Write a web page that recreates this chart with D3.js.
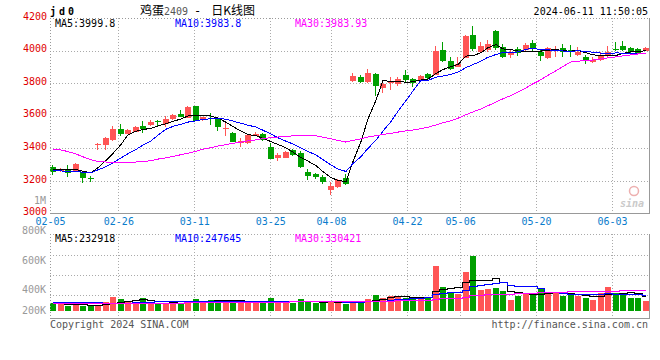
<!DOCTYPE html>
<html>
<head>
<meta charset="utf-8">
<script src="https://cdn.jsdelivr.net/npm/d3@7"></script>
<style>
  body { margin: 0; background: #fff; }
  svg { display: block; }
  text { font-family: "DejaVu Sans Mono", monospace; font-size: 10px; }
</style>
</head>
<body>
<div id="chart"></div>
<script>
// daily candles, 2024-02-05 .. 2024-06-11 (80 sessions)
var opens = [3288,3260,3274,3258,3252,3215,3423,3421,3452,3521,3491,3503,3538,3544,3566,3548,3578,3611,3589,3660,
  3572,3589,3585,3521,3497,3432,3432,3477,3489,3411,3340,3342,3391,3374,3252,3242,3221,3146,3160,3217,
  3813,3840,3805,3856,3768,3800,3797,3850,3825,3815,3854,3850,4003,3938,3901,3954,4095,3989,4003,4121,
  4025,3972,4009,4003,4044,3989,3954,4005,4017,4005,3974,3962,3932,3944,3968,4010,4030,4017,4009,3999];
var highs = [3299,3280,3299,3309,3262,3231,3435,3468,3538,3548,3521,3540,3568,3574,3576,3597,3609,3636,3662,3661,
  3595,3615,3586,3554,3503,3462,3487,3501,3497,3432,3370,3385,3395,3385,3272,3248,3238,3191,3211,3244,
  3864,3850,3884,3860,3809,3835,3835,3880,3830,3850,3864,4030,4050,3962,3958,4097,4148,4050,4066,4128,
  4040,4003,4019,4046,4066,4003,4019,4030,4040,4034,4019,3974,3958,3989,4030,4050,4058,4023,4013,4019];
var lows = [3238,3252,3227,3252,3187,3193,3391,3391,3446,3476,3487,3499,3497,3538,3531,3534,3574,3591,3585,3568,
  3568,3544,3509,3476,3436,3411,3427,3473,3444,3334,3325,3338,3350,3281,3207,3213,3183,3115,3156,3176,
  3809,3800,3800,3721,3740,3760,3783,3800,3775,3805,3819,3848,3928,3881,3897,3952,3999,3985,3989,4005,
  3954,3952,3968,3999,3995,3938,3948,3958,3958,3958,3968,3917,3923,3938,3958,3995,3999,3980,3972,3997];
var closes = [3254,3272,3246,3305,3217,3212,3427,3466,3521,3491,3511,3534,3517,3564,3562,3578,3605,3593,3656,3570,
  3590,3584,3528,3527,3440,3448,3479,3491,3452,3336,3360,3376,3360,3283,3228,3222,3193,3170,3207,3181,
  3846,3805,3864,3780,3792,3806,3825,3820,3800,3846,3834,3999,3938,3887,3917,4091,4009,4030,4040,4015,
  3958,3989,3985,4034,4009,3968,4013,4009,3993,4000,3989,3942,3944,3974,3989,4002,4003,3993,3983,4015];

var ma5 = [3272,3273,3271,3270,3258.8,3250.4,3281.4,3325.4,3368.6,3423.4,3483.2,3504.6,3514.8,3523.4,3537.6,3551,3565.2,3580.4,3598.8,3600.4,
  3602.8,3598.6,3585.6,3559.8,3533.8,3505.4,3484.4,3477,3462,3441.2,3423.6,3403,3376.8,3343,3321.4,3293.8,3257.2,3219.2,3204,3194.6,
  3319.4,3441.8,3580.6,3695.2,3817.4,3809.4,3813.4,3804.6,3808.6,3819.4,3825,3859.8,3883.4,3900.8,3915,3966.4,3968.4,3986.8,4017.4,4037,
  4010.4,4006.4,3997.4,3996.2,3995,3997,4001.8,4006.6,3998.4,3996.6,4000.8,3986.6,3973.6,3969.8,3967.6,3970.2,3982.4,3992.2,3994,3999.2];
var ma10 = [3262,3261,3259,3257,3254,3250,3268,3287,3312,3341.1,3366.8,3393,3420.1,3446,3480.5,3517.1,3534.9,3547.6,3561.1,3569,
  3576.9,3581.9,3583,3579.3,3567.1,3554.1,3541.5,3531.3,3510.9,3487.5,3464.5,3443.7,3426.9,3402.5,3381.3,3358.7,3330.1,3298,3273.5,3258,
  3306.6,3349.5,3399.9,3449.6,3506,3564.4,3627.6,3692.6,3751.9,3818.4,3817.2,3836.6,3844,3854.7,3867.2,3895.7,3914.1,3935.1,3959.1,3976,
  3988.4,3987.4,3992.1,4006.8,4016,4003.7,4004.1,4002,3997.3,3995.8,3998.9,3994.2,3990.1,3984.1,3982.1,3985.5,3984.5,3982.9,3981.9,3983.4];
var ma30 = [3396,3390,3380,3365,3348,3330,3320,3316,3315,3315,3314,3316,3318,3325,3334,3342,3350,3361,3370,3382,
  3395,3404,3414,3423,3431,3438,3446,3452,3460,3465.9,3469.4,3472.9,3476.7,3475.9,3476.3,3476.6,3468.8,3459,3448.5,3438.2,
  3449.3,3458.4,3469.9,3477.1,3484.8,3492.4,3499.7,3507.3,3512.1,3521.3,3529.4,3543.3,3556.9,3568.9,3584.8,3606.3,3623.9,3641.9,3661.5,3684.1,
  3704.1,3724.5,3745.3,3770.4,3796.4,3821.3,3848.6,3876.6,3902.8,3930.1,3934.8,3939.4,3942.1,3948.5,3955.1,3961.6,3967.6,3973.3,3979.4,3985.1];

// volume, thousands of lots
var volumes = [130,108,87,124,81,81,81,146,227,195,141,141,211,141,124,124,124,124,162,195,
  141,179,162,179,179,135,135,135,135,211,135,135,124,195,162,124,124,152,152,114,
  124,162,195,260,216,243,243,216,189,206,216,730,390,298,271,633,898,341,357,379,
  325,179,249,271,287,368,271,287,249,271,243,216,179,287,390,287,298,216,216,168];
var vma5 = [120,118,112,110,106,96.2,90.8,102.6,123.2,146,158,170,183,165.8,151.6,148.2,144.8,127.4,131.6,145.8,
  149.2,160.2,167.8,171.2,168,166.8,158,152.6,143.8,150.2,150.2,150.2,148,160,150.2,148,145.8,151.4,142.8,133.2,
  133.2,140.8,149.4,171,191.4,215.2,231.4,235.6,221.4,219.4,214,311.4,346.2,368,381,464.4,498,488.2,500,521.6,
  460,316.2,297.8,280.6,262.2,270.8,289.2,296.8,292.4,289.2,264.2,253.2,231.6,239.2,263,271.8,288.2,295.6,281.4,237];
var vma10 = [140,139,138,136,134,132,130,128,127,126,127.1,130.4,142.8,144.5,148.8,153.1,157.4,155.2,148.7,148.7,
  148.7,152.5,147.6,151.4,156.9,158,159.1,160.2,157.5,159.1,158.5,154.1,150.3,151.9,150.2,149.1,148,149.7,151.4,141.7,
  140.6,143.3,150.4,156.9,162.3,174.2,186.1,192.5,196.2,205.4,214.6,271.4,290.9,294.7,300.2,339.2,404.7,417.2,434,451.3,
  462.2,407.1,393,390.3,391.9,365.4,302.7,297.3,286.5,275.7,267.5,271.2,264.2,265.8,276.1,268,270.7,263.6,260.3,250];
var vma30 = [116,115,116,117,117,118,118,119,120,121,122,123,124,125,126,127,128,129,130,131,
  132,133,134,135,137,138,139,140,142,144.6,144.8,145.7,146.9,149.3,152,153.4,154.8,155,152.5,149.8,
  149.3,150,149.4,153.4,156.5,160.4,164.4,167.5,168.4,168.7,171.2,189.6,197.2,201.2,204.2,220.8,246.3,253.1,260.5,266.1,
  272.5,273.9,278.1,280.6,284.8,292.9,297.8,302.3,305.6,310.8,314.8,316.6,316,316.9,322.7,324.2,326,326,326.9,325.7];

var tickIdx = [0, 9, 19, 29, 37, 47, 54, 64, 74];
var tickLabels = ['02-05', '02-26', '03-11', '03-25', '04-08', '04-22', '05-06', '05-20', '06-03'];
var priceTicks = [3000, 3200, 3400, 3600, 3800, 4000, 4200];
var volTicks = [200, 400, 600, 800, 1000];
var volTickLabels = ['200K', '400K', '600K', '800K', '1M'];

var priceLegend = ['MA5:3999.8', 'MA10:3983.8', 'MA30:3983.93'];
var volLegend = ['MA5:232918', 'MA10:247645', 'MA30:330421'];

(function () {
  var W = 660, H = 360;
  var L = 50, R = 650;
  var red = '#ff5555', green = '#009f00';
  var gridColor = '#aaa', frameColor = '#999';
  var maColors = ['#000', '#0000ff', '#ff00ff'];

  var svg = d3.select('#chart').append('svg').attr('width', W).attr('height', H);
  var n = closes.length;

  var x = d3.scaleBand().domain(d3.range(n)).range([49.5, 649.5]).paddingInner(0.2).paddingOuter(0.1);
  var xt = d3.scaleLinear().domain([0, n - 1]).range([L, R]);
  var y = d3.scaleLinear().domain([3000, 4200]).range([213.5, 18]);
  var yv = d3.scaleLinear().domain([0, 1250]).range([311, 234]);
  var yvLabel = d3.scaleLinear().domain([400, 1000]).range([293.3, 204]);

  function bx(i) { return Math.round(x(i)); }
  function col(i) { return closes[i] >= opens[i] ? red : green; }
  function px(v) { return Math.round(v) + 0.5; }

  var pTop = 18, pBot = 213, vTop = 234, vBot = 318;

  // grid
  var grid = svg.append('g').attr('stroke', gridColor).attr('stroke-dasharray', '1,2').attr('shape-rendering', 'crispEdges');
  priceTicks.filter(function (t) { return t > 3000; }).forEach(function (t) {
    grid.append('line').attr('x1', L).attr('x2', R).attr('y1', px(y(t))).attr('y2', px(y(t)));
  });
  [255, 275, 295, vTop].forEach(function (gy) {
    grid.append('line').attr('x1', L).attr('x2', R).attr('y1', gy + 0.5).attr('y2', gy + 0.5);
  });
  tickIdx.forEach(function (t) {
    var gx = px(xt(t));
    grid.append('line').attr('x1', gx).attr('x2', gx).attr('y1', pTop).attr('y2', pBot);
    grid.append('line').attr('x1', gx).attr('x2', gx).attr('y1', vTop).attr('y2', vBot + 2);
  });

  // frames
  var frame = svg.append('g').attr('stroke', frameColor).attr('shape-rendering', 'crispEdges');
  frame.append('line').attr('x1', L).attr('x2', R).attr('y1', pBot + 0.5).attr('y2', pBot + 0.5);
  frame.append('line').attr('x1', R - 0.5).attr('x2', R - 0.5).attr('y1', pTop).attr('y2', pBot + 1);
  frame.append('line').attr('x1', L).attr('x2', R).attr('y1', vBot + 0.5).attr('y2', vBot + 0.5);
  frame.append('line').attr('x1', R - 0.5).attr('x2', R - 0.5).attr('y1', vTop).attr('y2', vBot + 1);

  // watermark
  var wm = svg.append('g').attr('opacity', 0.55);
  wm.append('circle').attr('cx', 634).attr('cy', 191).attr('r', 4.5).attr('fill', 'none').attr('stroke', '#e07070').attr('stroke-width', 1.5);
  wm.append('text').attr('x', 620).attr('y', 207).attr('font-family', 'Liberation Sans, sans-serif')
    .attr('font-style', 'italic').attr('font-weight', 'bold').attr('font-size', 15).attr('fill', '#a0a0a0').text('sina');

  // candles
  var cg = svg.append('g').attr('shape-rendering', 'crispEdges');
  cg.selectAll('rect.wick').data(d3.range(n)).join('rect').attr('class', 'wick')
    .attr('x', function (i) { return bx(i) + 2; }).attr('width', 1)
    .attr('y', function (i) { return Math.round(y(highs[i])); })
    .attr('height', function (i) { return Math.max(1, Math.round(y(lows[i])) - Math.round(y(highs[i]))); })
    .attr('fill', col);
  cg.selectAll('rect.body').data(d3.range(n)).join('rect').attr('class', 'body')
    .attr('x', bx).attr('width', x.bandwidth())
    .attr('y', function (i) { return Math.round(y(Math.max(opens[i], closes[i]))); })
    .attr('height', function (i) {
      return Math.max(1, Math.round(y(Math.min(opens[i], closes[i]))) - Math.round(y(Math.max(opens[i], closes[i]))));
    })
    .attr('fill', col);

  // price MAs
  var line = d3.line().x(function (d, i) { return bx(i) + 3; }).y(function (d) { return y(d); });
  [ma5, ma10, ma30].forEach(function (s, k) {
    svg.append('path').datum(s).attr('d', line).attr('fill', 'none')
      .attr('stroke', maColors[k]).attr('stroke-width', 1).attr('shape-rendering', 'crispEdges');
  });

  // volume bars
  svg.append('g').attr('shape-rendering', 'crispEdges')
    .selectAll('rect').data(d3.range(n)).join('rect')
    .attr('x', bx).attr('width', x.bandwidth())
    .attr('y', function (i) { return Math.round(yv(volumes[i])); })
    .attr('height', function (i) { return 311 - Math.round(yv(volumes[i])); })
    .attr('fill', col);

  var vline = d3.line().curve(d3.curveStep).x(function (d, i) { return bx(i) + 3; }).y(function (d) { return yv(d); });
  [vma5, vma10, vma30].forEach(function (s, k) {
    svg.append('path').datum(s).attr('d', vline).attr('fill', 'none')
      .attr('stroke', maColors[k]).attr('stroke-width', 1).attr('shape-rendering', 'crispEdges');
  });

  // left frame lines drawn over the bars
  var lf = svg.append('g').attr('stroke', frameColor).attr('stroke-dasharray', '1,2').attr('shape-rendering', 'crispEdges');
  lf.append('line').attr('x1', L + 0.5).attr('x2', L + 0.5).attr('y1', pTop).attr('y2', pBot);
  lf.append('line').attr('x1', L + 0.5).attr('x2', L + 0.5).attr('y1', vTop).attr('y2', vBot + 3);
  lf.append('line').attr('x1', L).attr('x2', R).attr('y1', pTop + 0.5).attr('y2', pTop + 0.5);

  // price axis labels
  var yAxis = d3.axisLeft(y).tickValues(priceTicks).tickSize(0).tickPadding(0).tickFormat(d3.format('d'));
  var ya = svg.append('g').attr('transform', 'translate(47,-2)').call(yAxis);
  ya.select('.domain').remove();
  ya.selectAll('text').attr('fill', '#e00000').attr('font-size', 10).attr('font-family', 'DejaVu Sans Mono, monospace');

  // date axis
  var xAxis = d3.axisBottom(xt).tickValues(tickIdx).tickSize(0).tickPadding(0)
    .tickFormat(function (d, i) { return tickLabels[i]; });
  var xa = svg.append('g').attr('transform', 'translate(0,218)').call(xAxis);
  xa.select('.domain').remove();
  xa.selectAll('text').attr('fill', '#0a7ccc').attr('font-size', 10).attr('font-family', 'DejaVu Sans Mono, monospace');

  // volume labels
  svg.append('g').selectAll('text').data(volTicks).join('text')
    .attr('x', 46).attr('text-anchor', 'end').attr('fill', '#999')
    .attr('y', function (v) { return Math.min(314, yvLabel(v)); })
    .text(function (v, i) { return volTickLabels[i]; });

  // legends
  var lx = [55, 175, 295];
  priceLegend.forEach(function (t, k) {
    svg.append('text').attr('x', lx[k]).attr('y', 27).attr('fill', maColors[k]).text(t);
  });
  volLegend.forEach(function (t, k) {
    svg.append('text').attr('x', lx[k]).attr('y', 241.5).attr('fill', maColors[k]).text(t);
  });

  // titles
  svg.append('text').attr('x', 50).attr('y', 15).attr('font-size', 14).attr('font-weight', 'bold')
    .attr('letter-spacing', 3).attr('fill', '#000').text('jd0');
  var tt = svg.append('text').attr('x', 140).attr('y', 15).attr('fill', '#000');
  tt.append('tspan').attr('font-family', 'Noto Sans CJK SC').attr('font-size', 12).text('鸡蛋');
  tt.append('tspan').attr('font-size', 10).attr('fill', '#555').text('2409');
  tt.append('tspan').attr('font-size', 12).attr('dx', 6).text('-');
  tt.append('tspan').attr('font-family', 'Noto Sans CJK SC').attr('font-size', 12).attr('dx', 10).text('日K线图');
  svg.append('text').attr('x', 648).attr('y', 15).attr('text-anchor', 'end').attr('fill', '#000').text('2024-06-11 11:50:05');

  svg.append('text').attr('x', 50).attr('y', 328).attr('fill', '#555').text('Copyright 2024 SINA.COM');
  svg.append('text').attr('x', 648).attr('y', 328).attr('text-anchor', 'end').attr('fill', '#555').text('http://finance.sina.com.cn');
})();
</script>
</body>
</html>
